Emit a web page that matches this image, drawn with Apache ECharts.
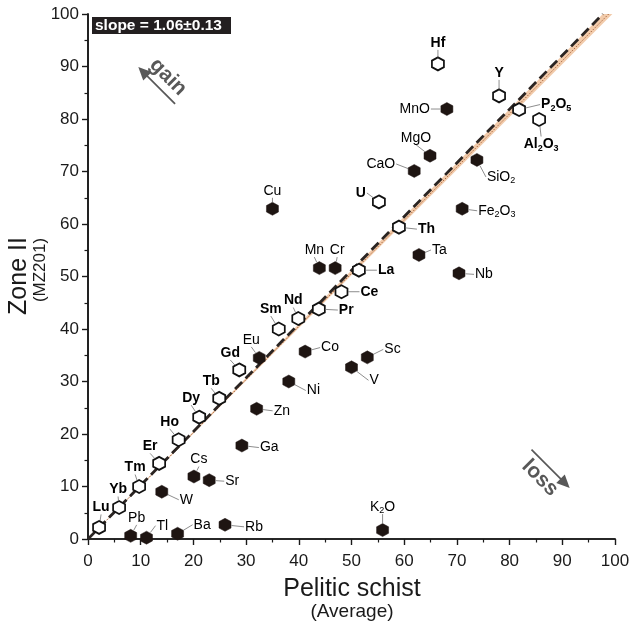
<!DOCTYPE html>
<html><head><meta charset="utf-8">
<script src="https://cdn.jsdelivr.net/npm/echarts@6/dist/echarts.min.js"></script>
<style>html,body{margin:0;padding:0;background:#fff}#c{width:636px;height:627px}</style>
</head><body><div id="c"></div>
<script>
// ---- data ----
const hollowNames = ['Hf','Y','P2O5','Al2O3','U','Th','La','Ce','Pr','Nd','Sm','Gd','Tb','Dy','Ho','Er','Tm','Yb','Lu'];
const hollowX = [66.4,78.0,81.8,85.6,55.2,59.0,51.4,48.1,43.8,39.9,36.2,28.7,24.9,21.1,17.2,13.5,9.7,5.9,2.1];
const hollowY = [90.5,84.4,81.8,79.9,64.2,59.4,51.2,47.1,43.8,42.0,40.0,32.2,26.8,23.2,18.9,14.4,10.0,6.0,2.2];
const filledNames = ['MnO','MgO','CaO','SiO2','Cu','Fe2O3','Ta','Mn','Cr','Nb','Co','Sc','Eu','V','Ni','Zn','Ga','Cs','Sr','W','Rb','K2O','Pb','Tl','Ba'];
const filledX = [68.1,64.9,61.9,73.8,35.0,71.0,62.8,43.9,46.9,70.4,41.2,53.0,32.5,50.0,38.1,32.0,29.2,20.1,23.0,14.0,26.0,55.9,8.1,11.1,17.0];
const filledY = [81.9,73.0,70.1,72.2,62.9,62.9,54.1,51.6,51.6,50.6,35.7,34.6,34.5,32.7,30.0,24.8,17.8,11.9,11.2,9.0,2.7,1.7,0.6,0.25,1.0];
const slopeLine = [[0,0],[97.7,100]];
const bandLower = [[0,0],[99.5,100]];
const refLine = [[0,0],[98.8,100]];
const xTicks = {min:0, max:100, interval:10};
const yTicks = {min:0, max:100, interval:10};
const slopeText = 'slope = 1.06\u00b10.13';

// ---- label placement (pixel offsets from point, side of text) ----
const labelLayout = {
  Hf:[0,-14,'T'], Y:[0,-16,'T'], P2O5:[21,-5,'L'], Al2O3:[2,17,'B'], U:[-12,-9,'R'], Th:[18,2,'L'],
  La:[18,0,'L'], Ce:[18,0,'L'], Pr:[19,1,'L'], Nd:[-5,-11,'T'], Sm:[-8,-13,'T'], Gd:[-9,-10,'T'],
  Tb:[-8,-10,'T'], Dy:[-8,-12,'T'], Ho:[-9,-11,'T'], Er:[-9,-10,'T'], Tm:[-4,-12,'T'], Yb:[-1,-11,'T'], Lu:[2,-13,'T'],
  MnO:[-16,0,'R'], MgO:[-14,-11,'T'], CaO:[-18,-7,'R'], SiO2:[9,17,'L'], Cu:[0,-11,'T'], Fe2O3:[15,2,'L'],
  Ta:[12,-5,'L'], Mn:[-5,-11,'T'], Cr:[2,-11,'T'], Nb:[15,1,'L'], Co:[15,-4,'L'], Sc:[16,-8,'L'], Eu:[-8,-11,'T'],
  V:[17,13,'L'], Ni:[17,9,'L'], Zn:[16,2,'L'], Ga:[17,2,'L'], Cs:[5,-10,'T'], Sr:[15,1,'L'], W:[17,8,'L'],
  Rb:[19,2,'L'], K2O:[0,-16,'T'], Pb:[6,-11,'T'], Tl:[9,-12,'L'], Ba:[15,-9,'L']
};

const FONT = '"Liberation Sans", Arial, Helvetica, sans-serif';
const hexPath = 'path://M0,-1 L0.866,-0.5 L0.866,0.5 L0,1 L-0.866,0.5 L-0.866,-0.5 Z';

function toRich(name, bold){
  const k = bold ? 'B' : 'N';
  return name.split(/(\d)/).filter(s=>s!=='').map(s => /\d/.test(s) ? '{'+k+'s|'+s+'}' : '{'+k+'|'+s+'}').join('');
}
const rich = {
  N:{fontFamily:FONT,fontSize:14,color:'#2a2a2a',lineHeight:16,verticalAlign:'middle'},
  Ns:{fontFamily:FONT,fontSize:9,color:'#2a2a2a',verticalAlign:'bottom'},
  B:{fontFamily:FONT,fontSize:14,fontWeight:'bold',color:'#1a1a1a',lineHeight:16,verticalAlign:'middle'},
  Bs:{fontFamily:FONT,fontSize:9,fontWeight:'bold',color:'#1a1a1a',verticalAlign:'bottom'}
};

function labelSeries(names, xs, ys, bold){
  return {
    type:'custom', z:6, silent:true, clip:false,
    encode:{x:0,y:1},
    data: xs.map((x,i)=>[x, ys[i], i]),
    renderItem(params, api){
      const p = api.coord([api.value(0), api.value(1)]);
      const name = names[api.value(2)];
      const L = labelLayout[name];
      const ax = p[0]+L[0], ay = p[1]+L[1];
      const dx = L[0], dy = L[1];
      const d = Math.sqrt(dx*dx+dy*dy);
      const children = [];
      if (d > 8){
        const ux = dx/d, uy = dy/d;
        children.push({type:'line', shape:{x1:p[0]+ux*6.5, y1:p[1]+uy*6.5, x2:ax, y2:ay},
          style:{stroke:'#707070', lineWidth:0.8}});
      }
      let tx = ax, ty = ay, align='center', va='middle';
      if (L[2]==='L'){ tx = ax+1; align='left'; }
      else if (L[2]==='R'){ tx = ax-1; align='right'; }
      else if (L[2]==='T'){ ty = ay+1; va='bottom'; }
      else if (L[2]==='B'){ ty = ay; va='top'; }
      children.push({type:'text', style:{text:toRich(name,bold), rich:rich, x:tx, y:ty, align:align, verticalAlign:va}});
      return {type:'group', children};
    }
  };
}

const chart = echarts.init(document.getElementById('c'), null, {renderer:'canvas'});
const axisBase = {
  type:'value', splitLine:{show:false},
  axisLine:{show:true, onZero:false, lineStyle:{color:'#1a1a1a', width:1.6}},
  axisTick:{show:true, inside:false, length:6, lineStyle:{color:'#1a1a1a', width:1.4}},
  minorTick:{show:true, splitNumber:2, length:3.5, lineStyle:{color:'#1a1a1a', width:1.2}},
  axisLabel:{fontFamily:FONT, fontSize:17, color:'#1a1a1a'}
};
const option = {
  animation:false,
  backgroundColor:'#fff',
  grid:{left:88, right:21, top:14, bottom:88},
  xAxis:[
    Object.assign({}, axisBase, {min:xTicks.min, max:xTicks.max, interval:xTicks.interval, position:'bottom',
      axisLabel:Object.assign({}, axisBase.axisLabel, {margin:14})}),
    {type:'value', min:xTicks.min, max:xTicks.max, position:'top', axisLine:{show:true, lineStyle:{color:'#1a1a1a', width:1.6}},
      axisTick:{show:false}, axisLabel:{show:false}, splitLine:{show:false}}
  ],
  yAxis:[
    Object.assign({}, axisBase, {min:yTicks.min, max:yTicks.max, interval:yTicks.interval, position:'left',
      axisLabel:Object.assign({}, axisBase.axisLabel, {margin:9})}),
    {type:'value', min:yTicks.min, max:yTicks.max, position:'right', axisLine:{show:true, lineStyle:{color:'#1a1a1a', width:1.6}},
      axisTick:{show:false}, axisLabel:{show:false}, splitLine:{show:false}}
  ],
  series:[
    {
      type:'custom', z:1, silent:true, data:[[0,0]], encode:{x:0,y:1},
      renderItem(params, api){
        const pts = slopeLine.map(v=>api.coord(v)).concat(bandLower.slice().reverse().map(v=>api.coord(v)));
        return {type:'polygon', shape:{points:pts}, style:{fill:'#f2cbab', stroke:'none'}};
      }
    },
    {type:'line', z:2, silent:true, symbol:'none', data:refLine, lineStyle:{color:'#a8673f', width:1, type:[1.5,1.5]}},
    {type:'line', z:3, silent:true, symbol:'none', data:slopeLine, lineStyle:{color:'#2a2422', width:2.8, type:[10,5]}},
    {type:'scatter', z:5, symbol:hexPath, symbolSize:[12,13], data:filledX.map((x,i)=>[x, filledY[i]]),
      itemStyle:{color:'#1e1512', borderColor:'#1e1512', borderWidth:0.5, opacity:1}},
    {type:'scatter', z:5, symbol:hexPath, symbolSize:[12,13], data:hollowX.map((x,i)=>[x, hollowY[i]]),
      itemStyle:{color:'#ffffff', borderColor:'#111', borderWidth:1.8, opacity:1}},
    labelSeries(filledNames, filledX, filledY, false),
    labelSeries(hollowNames, hollowX, hollowY, true)
  ],
  graphic:[
    {type:'rect', left:92, top:17, shape:{width:139, height:17}, style:{fill:'#231f20'}, z:10},
    {type:'text', left:95, top:18, style:{text:slopeText, fill:'#fff', font:'bold 15.5px '+FONT}, z:11},
    {type:'group', x:168, y:77, rotation:-Math.PI/4, z:10, children:[
      {type:'text', x:0, y:0, style:{text:'gain', fill:'#585858', font:'bold 21px '+FONT, align:'center', verticalAlign:'middle'}},
      {type:'line', shape:{x1:-16, y1:14, x2:24, y2:14}, style:{stroke:'#585858', lineWidth:1.7}},
      {type:'polygon', shape:{points:[[-28,14],[-15,8],[-15,20]]}, style:{fill:'#585858'}}
    ]},
    {type:'group', x:540, y:478, rotation:-Math.PI/4, z:10, children:[
      {type:'text', x:0, y:0, style:{text:'loss', fill:'#585858', font:'bold 21px '+FONT, align:'center', verticalAlign:'middle'}},
      {type:'line', shape:{x1:-26, y1:-14, x2:16, y2:-14}, style:{stroke:'#585858', lineWidth:1.7}},
      {type:'polygon', shape:{points:[[28,-14],[15,-20],[15,-8]]}, style:{fill:'#585858'}}
    ]},
    {type:'text', x:352, y:589, style:{text:'Pelitic schist', fill:'#1a1a1a', font:'25px '+FONT, align:'center', verticalAlign:'middle'}, z:10},
    {type:'text', x:352, y:612, style:{text:'(Average)', fill:'#1a1a1a', font:'19px '+FONT, align:'center', verticalAlign:'middle'}, z:10},
    {type:'text', x:19, y:276, rotation:Math.PI/2, style:{text:'Zone II', fill:'#1a1a1a', font:'25px '+FONT, align:'center', verticalAlign:'middle'}, z:10},
    {type:'text', x:40, y:270, rotation:Math.PI/2, style:{text:'(MZ201)', fill:'#1a1a1a', font:'17px '+FONT, align:'center', verticalAlign:'middle'}, z:10}
  ]
};
chart.setOption(option);
</script></body></html>
